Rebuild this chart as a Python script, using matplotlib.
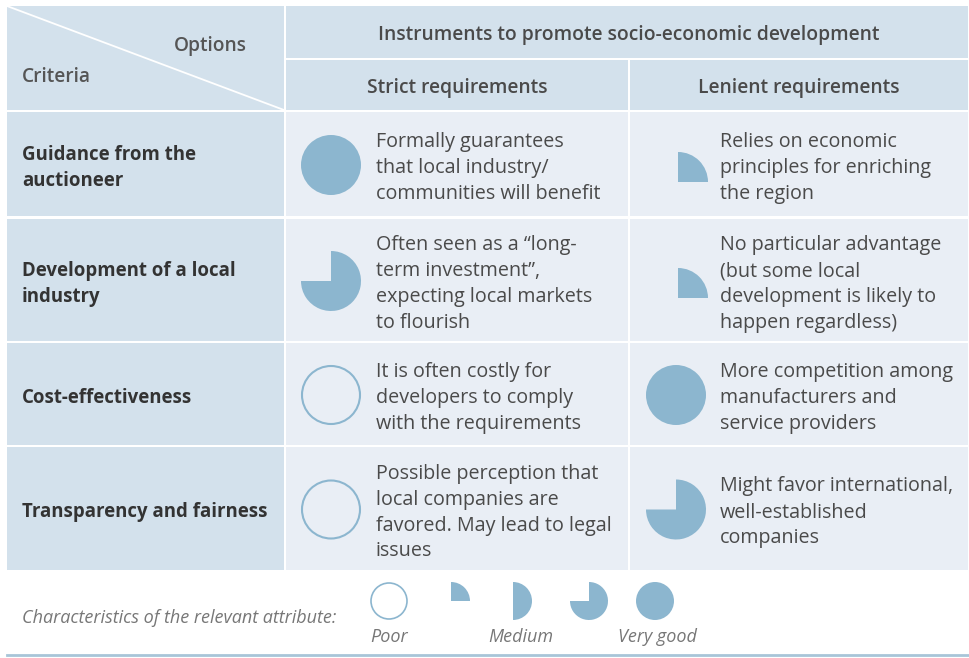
import matplotlib.pyplot as plt
from matplotlib.patches import Rectangle, Wedge, Circle

plt.rcParams['font.family'] = ['Open Sans', 'DejaVu Sans']

# --- Données ---
title = "Instruments to promote socio-economic development"
options = ["Strict requirements", "Lenient requirements"]
criteria = ["Guidance from the\nauctioneer",
            "Development of a local\nindustry",
            "Cost-effectiveness",
            "Transparency and fairness"]
# score: 0 = poor, 0.25, 0.5, 0.75, 1 = very good
strict_scores = [1.0, 0.75, 0.0, 0.0]
lenient_scores = [0.25, 0.25, 1.0, 0.75]
strict_text = ["Formally guarantees\nthat local industry/\ncommunities will benefit",
               "Often seen as a \u201clong-\nterm investment\u201d,\nexpecting local markets\nto flourish",
               "It is often costly for\ndevelopers to comply\nwith the requirements",
               "Possible perception that\nlocal companies are\nfavored. May lead to legal\nissues"]
lenient_text = ["Relies on economic\nprinciples for enriching\nthe region",
                "No particular advantage\n(but some local\ndevelopment is likely to\nhappen regardless)",
                "More competition among\nmanufacturers and\nservice providers",
                "Might favor international,\nwell-established\ncompanies"]
legend_scores = [0.0, 0.25, 0.5, 0.75, 1.0]
legend_labels = {0.0: "Poor", 0.5: "Medium", 1.0: "Very good"}

# --- Styles ---
HEAD = "#d3e1ec"
BODY = "#e9eef5"
PIE = "#8cb6cf"
TXT = "#4a4a4a"
LINE_H = 26
DY = 2  # petit décalage vertical du texte

fig = plt.figure(figsize=(9.7, 6.58), dpi=100)
ax = fig.add_axes([0, 0, 1, 1])
ax.set_xlim(0, 970)
ax.set_ylim(658, 0)
ax.axis("off")

# colonnes / lignes (pixels)
col_x = [(7, 284), (286, 628), (630, 968)]
rows = [(112, 216), (219, 341), (343, 445), (447, 570)]


def cell(x0, x1, y0, y1, color):
    ax.add_patch(Rectangle((x0, y0), x1 - x0, y1 - y0, color=color, lw=0))


def lines(x, yc, txt, **kw):
    parts = txt.split("\n")
    n = len(parts)
    for i, p in enumerate(parts):
        ax.text(x, yc + (i - (n - 1) / 2) * LINE_H, p, va="center", ha="left", **kw)


def score_mark(cx, cy, f, r=30, lw=1.5, face=BODY, quarter_shift=(2, 17)):
    if f <= 0:
        ax.add_patch(Circle((cx, cy), r - 1, facecolor=face, edgecolor=PIE, lw=lw))
    elif f >= 1:
        ax.add_patch(Circle((cx, cy), r, color=PIE, lw=0))
    else:
        if f == 0.25 and quarter_shift is not None:
            cx, cy = cx + quarter_shift[0], cy + quarter_shift[1]
        # axe y inversé -> angles en miroir
        ax.add_patch(Wedge((cx, cy), r, -90, -90 + 360 * f, color=PIE, lw=0))


# --- En-têtes ---
cell(7, 284, 6, 110, HEAD)
ax.plot([7, 284], [6, 110], color="white", lw=1.3)
ax.text(247, 44 + DY, "Options", ha="right", va="center", fontsize=13.8, color="#555555", fontweight="semibold")
ax.text(22, 75 + DY, "Criteria", ha="left", va="center", fontsize=13.8, color="#555555", fontweight="semibold")

cell(286, 968, 6, 58, HEAD)
ax.text(629, 33 + DY, title, ha="center", va="center", fontsize=13.9, color="#4a4a4a", fontweight="semibold")
for (x0, x1), opt in zip(col_x[1:], options):
    cell(x0, x1, 60, 110, HEAD)
    ax.text((x0 + x1) / 2, 86 + DY, opt, ha="center", va="center", fontsize=13.9,
            color="#4a4a4a", fontweight="semibold")

# --- Corps ---
for i, (y0, y1) in enumerate(rows):
    yc = (y0 + y1) / 2
    cell(*col_x[0], y0, y1, HEAD)
    cell(*col_x[1], y0, y1, BODY)
    cell(*col_x[2], y0, y1, BODY)
    lines(22, yc + 2 + DY, criteria[i], fontsize=13.4, color="#333333", fontweight="bold")
    score_mark(331, yc + 1, strict_scores[i])
    score_mark(676, yc + 1, lenient_scores[i])
    lines(376, yc + 2 + DY, strict_text[i], fontsize=14.2, color=TXT)
    lines(720, yc + 2 + DY, lenient_text[i], fontsize=14.2, color=TXT)

# --- Légende ---
ax.text(22, 616 + DY, "Characteristics of the relevant attribute:", ha="left", va="center",
        fontsize=13, style="italic", color="#777777")
legend_x = [389, 451, 513, 589, 655]
for lx, s in zip(legend_x, legend_scores):
    score_mark(lx, 601, s, r=19, lw=1.2, face="white", quarter_shift=None)
    if s in legend_labels:
        ax.text(lx + (8 if s == 0.5 else 2 if s == 1.0 else 0), 635 + DY, legend_labels[s],
                ha="center", va="center", fontsize=13, style="italic", color="#777777")

ax.plot([7, 968], [655, 655], color="#a8c5d8", lw=2)

fig.savefig("out.png", dpi=100)
